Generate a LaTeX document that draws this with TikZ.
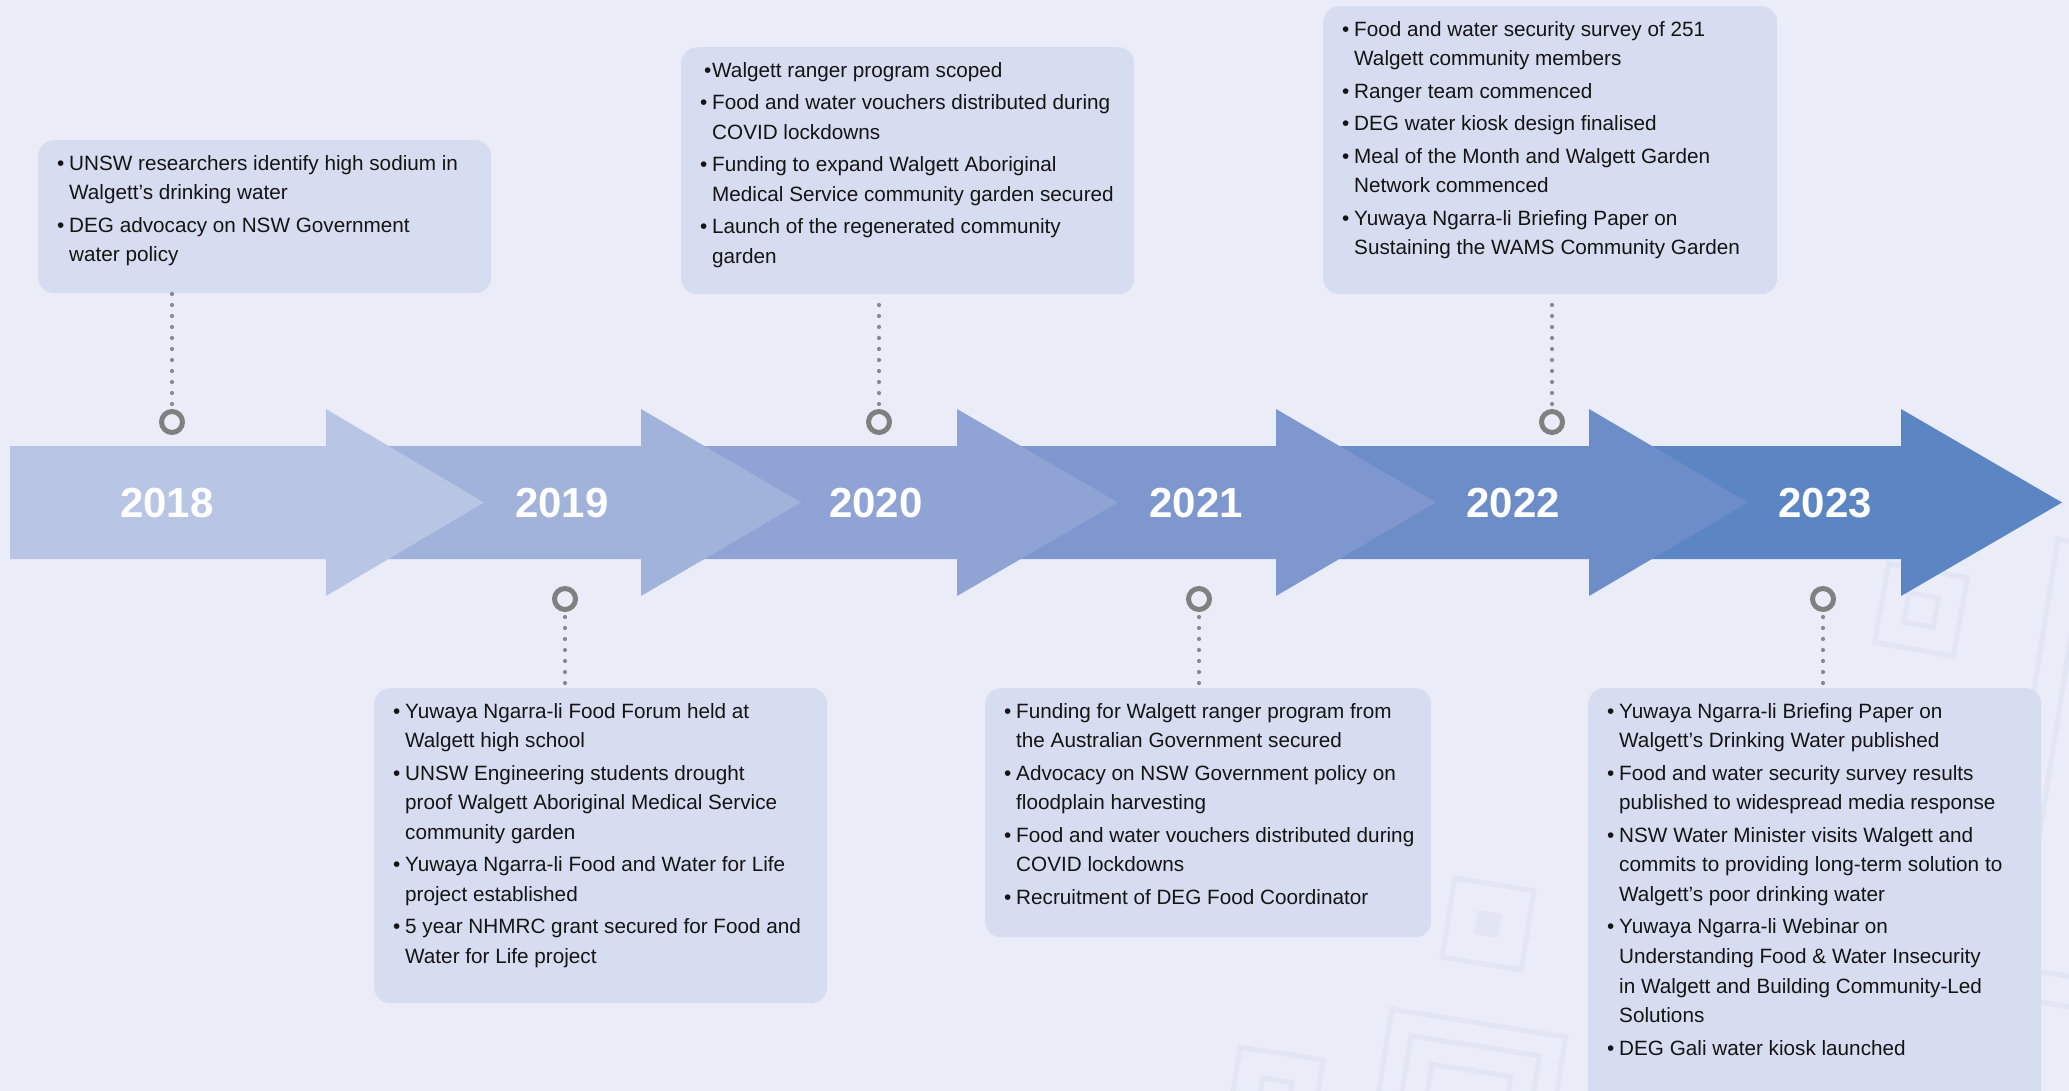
\documentclass[tikz,border=0pt]{standalone}
\usepackage{fontspec}
\setmainfont{Liberation Sans}
\definecolor{bgc}{HTML}{EAEDF8}
\definecolor{boxc}{HTML}{D7DDF1}
\definecolor{decoc}{HTML}{E1E5F4}
\definecolor{ringc}{HTML}{808080}
\definecolor{dotc}{HTML}{8A8A8A}
\definecolor{txtc}{HTML}{141414}
\definecolor{aA}{HTML}{B8C5E5}
\definecolor{aB}{HTML}{A1B2DB}
\definecolor{aC}{HTML}{8FA4D5}
\definecolor{aD}{HTML}{7E97CF}
\definecolor{aE}{HTML}{6D8DC8}
\definecolor{aF}{HTML}{5C85C4}
\newcommand\bl{\strut\makebox[12pt][l]{\textbullet}}
\newcommand\cl{\strut\hspace*{12pt}}
\begin{document}
\begin{tikzpicture}[x=1pt,y=-1pt,
  evbox/.style={fill=boxc, rounded corners=16pt, inner sep=0pt, anchor=north west},
  evtext/.style={anchor=north west, inner sep=0pt, align=left, text=txtc, font=\fontsize{20.7}{29.6}\selectfont},
  ring/.style={circle, draw=ringc, line width=5pt, minimum size=21pt, inner sep=0pt},
  dotline/.style={draw=dotc, line width=4.2pt, line cap=round, dash pattern=on 0pt off 11pt},
  year/.style={text=white, font=\fontsize{42}{48}\selectfont\bfseries, inner sep=0pt},
  deco/.style={draw=decoc, line width=5pt},
]
\useasboundingbox (0,0) rectangle (2069,1091);
\clip (0,0) rectangle (2069,1091);
\fill[bgc] (0,0) rectangle (2069,1091);

% background decoration
\begin{scope}[shift={(1488,924)},rotate=-9]
  \draw[deco] (-40,-40) rectangle (40,40); \fill[decoc] (-12,-12) rectangle (12,12);
\end{scope}
\begin{scope}[shift={(1921,610)},rotate=-10]
  \draw[deco] (-40,-40) rectangle (40,40); \draw[deco] (-15,-15) rectangle (15,15);
\end{scope}
\begin{scope}[shift={(1275,1095)},rotate=-9]
  \draw[deco] (-42,-42) rectangle (42,42); \draw[deco] (-15,-15) rectangle (15,15);
\end{scope}
\begin{scope}[shift={(1465,1110)},rotate=-9]
  \draw[deco] (-88,-88) rectangle (88,88); \draw[deco] (-65,-65) rectangle (65,65); \draw[deco] (-40,-40) rectangle (40,40);
\end{scope}
\begin{scope}[shift={(2170,790)},rotate=-9]
  \draw[deco] (-150,-230) rectangle (150,230); \draw[deco] (-122,-200) rectangle (122,200);
\end{scope}

% timeline arrows (drawn last-to-first so earlier heads overlap)
\fill[aF] (1589,446) -- (1901,446) -- (1901,409) -- (2062,502.5) -- (1901,596) -- (1901,559) -- (1589,559) -- cycle;
\fill[aE] (1276,446) -- (1589,446) -- (1589,409) -- (1748,502.5) -- (1589,596) -- (1589,559) -- (1276,559) -- cycle;
\fill[aD] (957,446) -- (1276,446) -- (1276,409) -- (1436,502.5) -- (1276,596) -- (1276,559) -- (957,559) -- cycle;
\fill[aC] (641,446) -- (957,446) -- (957,409) -- (1118,502.5) -- (957,596) -- (957,559) -- (641,559) -- cycle;
\fill[aB] (326,446) -- (641,446) -- (641,409) -- (801,502.5) -- (641,596) -- (641,559) -- (326,559) -- cycle;
\fill[aA] (10,446) -- (326,446) -- (326,409) -- (484,502.5) -- (326,596) -- (326,559) -- (10,559) -- cycle;

\node[year] (y18) at (167,503) {2018};
\node[year] (y19) at (562,503) {2019};
\node[year] (y20) at (876,503) {2020};
\node[year] (y21) at (1196,503) {2021};
\node[year] (y22) at (1513,503) {2022};
\node[year] (y23) at (1825,503) {2023};

% event boxes
\node[evbox, minimum width=453pt, minimum height=153pt] (b18) at (38,140) {};
\node[evbox, minimum width=453pt, minimum height=247pt] (b20) at (681,47) {};
\node[evbox, minimum width=454pt, minimum height=288pt] (b22) at (1323,6) {};
\node[evbox, minimum width=453pt, minimum height=315pt] (b19) at (374,688) {};
\node[evbox, minimum width=446pt, minimum height=249pt] (b21) at (985,688) {};
\node[evbox, minimum width=453pt, minimum height=430pt] (b23) at (1588,688) {};

\node[evtext] (t18) at (57,149.3) {\bl UNSW researchers identify high sodium in\\ \cl Walgett’s drinking water\\[2.8pt] \bl DEG advocacy on NSW Government\\ \cl water policy};
\node[evtext] (t20) at (700,56.3) {\strut\hspace*{4pt}\makebox[8pt][l]{\textbullet}Walgett ranger program scoped\\[2.8pt] \bl Food and water vouchers distributed during\\ \cl COVID lockdowns\\[2.8pt] \bl Funding to expand Walgett Aboriginal\\ \cl Medical Service community garden secured\\[2.8pt] \bl Launch of the regenerated community\\ \cl garden};
\node[evtext] (t22) at (1342,15.3) {\bl Food and water security survey of 251\\ \cl Walgett community members\\[2.8pt] \bl Ranger team commenced\\[2.8pt] \bl DEG water kiosk design finalised\\[2.8pt] \bl Meal of the Month and Walgett Garden\\ \cl Network commenced\\[2.8pt] \bl Yuwaya Ngarra-li Briefing Paper on\\ \cl Sustaining the WAMS Community Garden};
\node[evtext] (t19) at (393,697.3) {\bl Yuwaya Ngarra-li Food Forum held at\\ \cl Walgett high school\\[2.8pt] \bl UNSW Engineering students drought\\ \cl proof Walgett Aboriginal Medical Service\\ \cl community garden\\[2.8pt] \bl Yuwaya Ngarra-li Food and Water for Life\\ \cl project established\\[2.8pt] \bl 5 year NHMRC grant secured for Food and\\ \cl Water for Life project};
\node[evtext] (t21) at (1004,697.3) {\bl Funding for Walgett ranger program from\\ \cl the Australian Government secured\\[2.8pt] \bl Advocacy on NSW Government policy on\\ \cl floodplain harvesting\\[2.8pt] \bl Food and water vouchers distributed during\\ \cl COVID lockdowns\\[2.8pt] \bl Recruitment of DEG Food Coordinator};
\node[evtext] (t23) at (1607,697.3) {\bl Yuwaya Ngarra-li Briefing Paper on\\ \cl Walgett’s Drinking Water published\\[2.8pt] \bl Food and water security survey results\\ \cl published to widespread media response\\[2.8pt] \bl NSW Water Minister visits Walgett and\\ \cl commits to providing long-term solution to\\ \cl Walgett’s poor drinking water\\[2.8pt] \bl Yuwaya Ngarra-li Webinar on\\ \cl Understanding Food \& Water Insecurity\\ \cl in Walgett and Building Community-Led\\ \cl Solutions\\[2.8pt] \bl DEG Gali water kiosk launched};

% rings
\node[ring] (c18) at (172,422) {};
\node[ring] (c20) at (879,422) {};
\node[ring] (c22) at (1552,422) {};
\node[ring] (c19) at (565,599) {};
\node[ring] (c21) at (1199,599) {};
\node[ring] (c23) at (1823,599) {};

% dotted connectors
\draw[dotline, shorten <=5pt] (c18.north) -- (c18.north |- b18.south);
\draw[dotline, shorten <=5pt] (c20.north) -- (c20.north |- b20.south);
\draw[dotline, shorten <=5pt] (c22.north) -- (c22.north |- b22.south);
\draw[dotline, shorten <=5pt] (c19.south) -- (c19.south |- b19.north);
\draw[dotline, shorten <=5pt] (c21.south) -- (c21.south |- b21.north);
\draw[dotline, shorten <=5pt] (c23.south) -- (c23.south |- b23.north);
\end{tikzpicture}
\end{document}
